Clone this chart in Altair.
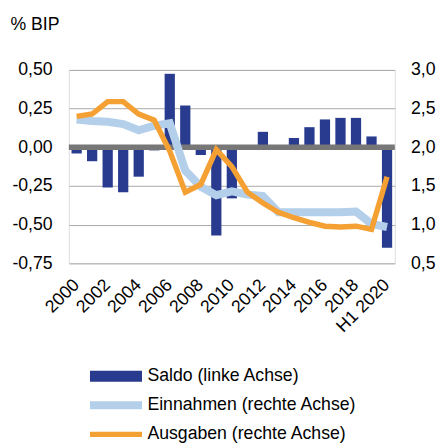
import altair as alt
import pandas as pd

years = ["2000", "2001", "2002", "2003", "2004", "2005", "2006", "2007", "2008", "2009",
         "2010", "2011", "2012", "2013", "2014", "2015", "2016", "2017", "2018", "2019", "H1 2020"]
tick_years = ["2000", "2002", "2004", "2006", "2008", "2010", "2012", "2014", "2016", "2018", "H1 2020"]

saldo = [-0.04, -0.09, -0.26, -0.29, -0.19, -0.02, 0.475, 0.27, -0.05, -0.57,
         -0.33, 0.0, 0.10, 0.0, 0.06, 0.13, 0.18, 0.19, 0.19, 0.07, -0.65]
einnahmen = [2.36, 2.34, 2.33, 2.30, 2.22, 2.28, 2.31, 1.70, 1.49, 1.38,
             1.43, 1.39, 1.37, 1.16, 1.16, 1.16, 1.16, 1.16, 1.17, 1.01, 0.97]
ausgaben = [2.40, 2.43, 2.59, 2.59, 2.43, 2.35, 1.95, 1.42, 1.52, 1.97,
            1.75, 1.42, 1.28, 1.16, 1.09, 1.03, 0.98, 0.97, 0.98, 0.94, 1.62]

series_names = ["Saldo (linke Achse)", "Einnahmen (rechte Achse)", "Ausgaben (rechte Achse)"]
series_colors = ["#283B8E", "#B4CFEA", "#F5A033"]
series_widths = [11, 5.5, 5]

left_ticks = [-0.75, -0.5, -0.25, 0.0, 0.25, 0.5]
right_ticks = [0.5, 1.0, 1.5, 2.0, 2.5, 3.0]

FONT = "Liberation Sans"
FS = 18

df_bar = pd.DataFrame({"year": years, "saldo": saldo})
df_lines = pd.DataFrame({
    "year": years * 2,
    "series": [series_names[1]] * len(years) + [series_names[2]] * len(years),
    "value": einnahmen + ausgaben,
})
df_zero = pd.DataFrame({"y": [0.0]})

x_enc = alt.X(
    "year:N",
    sort=years,
    scale=alt.Scale(paddingInner=0.34, paddingOuter=0.17),
    axis=alt.Axis(
        title=None, values=tick_years, labelAngle=-45, labelAlign="right",
        labelBaseline="middle", ticks=False, domain=False,
        labelFontSize=FS, labelFont=FONT, labelColor="#000000", labelPadding=19,
        labelOverlap=False,
    ),
)

left_scale = alt.Scale(domain=[-0.75, 0.5], nice=False, zero=False)
left_axis = alt.Axis(
    values=left_ticks, grid=True, gridColor="#A8A8A8", gridWidth=1,
    ticks=False, domain=False, labelPadding=17, labelOverlap=False,
    labelExpr="(datum.value < 0 ? '-' : '') + replace(format(abs(datum.value), '.2f'), '.', ',')",
    labelFontSize=FS, labelFont=FONT, labelColor="#000000",
    title="% BIP", titleAngle=0, titleAlign="left", titleBaseline="alphabetic",
    titleX=-60, titleY=-41, titleFontSize=FS, titleFont=FONT,
    titleFontWeight="normal", titleColor="#000000",
)

bars = alt.Chart(df_bar).mark_bar(color=series_colors[0]).encode(
    x=x_enc,
    y=alt.Y("saldo:Q", scale=left_scale, axis=left_axis),
)

zero_rule = alt.Chart(df_zero).mark_rule(color="#777777", strokeWidth=5.5).encode(
    y=alt.Y("y:Q", scale=left_scale, axis=left_axis)
)

left = alt.layer(bars, zero_rule)

color_scale = alt.Scale(domain=series_names, range=series_colors)
width_scale = alt.Scale(domain=series_names, range=series_widths)
legend = alt.Legend(
    title=None, orient="none", legendX=16, legendY=303, direction="vertical",
    symbolType="stroke", symbolSize=2809, clipHeight=18, rowPadding=11.6,
    labelOffset=0, labelFontSize=FS, labelFont=FONT, labelColor="#000000",
    labelLimit=0, padding=0, symbolStrokeWidth=5,
)

right_scale = alt.Scale(domain=[0.5, 3.0], nice=False, zero=False)
right_axis = alt.Axis(
    orient="right", values=right_ticks, grid=False, ticks=False, domain=False,
    labelPadding=16, title=None, labelOverlap=False,
    labelExpr="replace(format(datum.value, '.1f'), '.', ',')",
    labelFontSize=FS, labelFont=FONT, labelColor="#000000",
)


def line_layer(name):
    return alt.Chart(df_lines).transform_filter(
        alt.datum.series == name
    ).mark_line(strokeCap="butt").encode(
        x=x_enc,
        y=alt.Y("value:Q", scale=right_scale, axis=right_axis),
        color=alt.Color("series:N", scale=color_scale, legend=legend),
        strokeWidth=alt.StrokeWidth("series:N", scale=width_scale, legend=legend),
    )


right = alt.layer(line_layer(series_names[1]), line_layer(series_names[2]))

chart = alt.layer(left, right).resolve_scale(y="independent").properties(
    width=332,
    height=197,
    padding={"left": 62, "top": 59, "right": 44, "bottom": 183},
    autosize=alt.AutoSizeParams(type="none"),
).configure_view(stroke=None).configure(background="white")

chart.save("out.html", embed_options={"renderer": "svg", "actions": False})
